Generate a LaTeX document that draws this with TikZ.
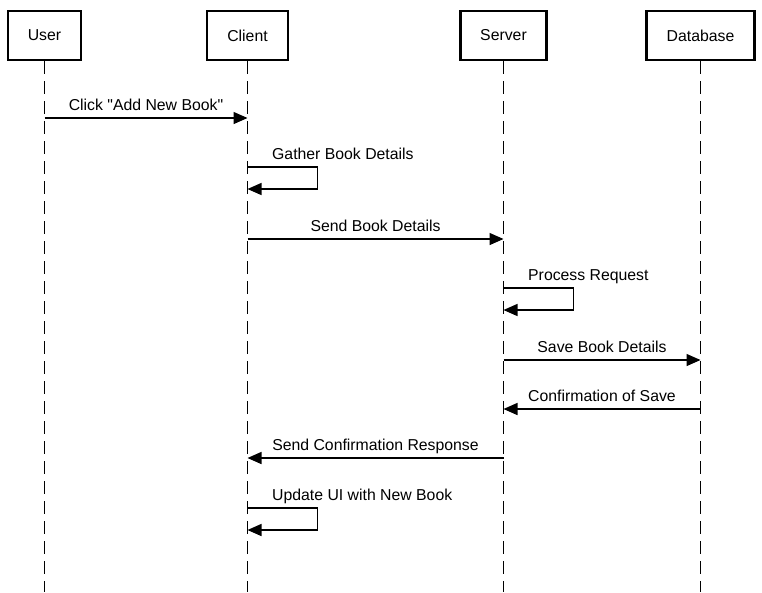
\documentclass[tikz,border=0pt]{standalone}
\usepackage{fontspec}
\setmainfont{Liberation Sans}[Ligatures=TeXOff]
\usetikzlibrary{arrows.meta}
\begin{document}
\begin{tikzpicture}[x=1pt,y=-1pt,
  actor/.style={draw=black,line width=2.6pt,minimum height=49pt,inner sep=0pt,font=\fontsize{15.8}{19}\selectfont},
  lifeline/.style={line width=1.6pt,dash pattern=on 13pt off 7pt},
  msg/.style={line width=1.4pt,-{Triangle[length=14pt,width=12pt]}},
  lbl/.style={inner sep=0pt,anchor=base,font=\fontsize{15.8}{19}\selectfont},
  lblw/.style={lbl,anchor=base west}]
\useasboundingbox (0,0) rectangle (762,592);
\fill[white] (0,0) rectangle (762,592);
% actors
\node[actor,minimum width=73pt] (user) at (44.5,35.5) {User};
\node[actor,minimum width=81pt] (client) at (247.5,35.5) {Client};
\node[actor,minimum width=86pt] (server) at (503.5,35.5) {Server};
\node[actor,minimum width=108pt] (db) at (700.5,35.5) {Database};
% lifeline ends
\coordinate (userend) at (44.5,592);
\coordinate (clientend) at (247.5,592);
\coordinate (serverend) at (503.5,592);
\coordinate (dbend) at (700.5,592);
\draw[lifeline] (user.south) -- (userend);
\draw[lifeline] (client.south) -- (clientend);
\draw[lifeline] (server.south) -- (serverend);
\draw[lifeline] (db.south) -- (dbend);
% message points
\coordinate (u1) at (44.5,118);   \coordinate (c1) at (247.5,118);
\coordinate (c2a) at (247.5,167); \coordinate (c2b) at (247.5,189);
\coordinate (c3) at (247.5,239);  \coordinate (s3) at (503.5,239);
\coordinate (s4a) at (503.5,288); \coordinate (s4b) at (503.5,310);
\coordinate (s5) at (503.5,360);  \coordinate (d5) at (700.5,360);
\coordinate (d6) at (700.5,409);  \coordinate (s6) at (503.5,409);
\coordinate (s7) at (503.5,458);  \coordinate (c7) at (247.5,458);
\coordinate (c8a) at (247.5,508); \coordinate (c8b) at (247.5,530);
% messages
\draw[msg] (u1) -- (c1);
\node[lbl] (t1) at (146,110) {Click "Add New Book"};
\draw[msg] (c2a) -- ++(70,0) |- (c2b);
\node[lblw] (t2) at (272,159.5) {Gather Book Details};
\draw[msg] (c3) -- (s3);
\node[lbl] (t3) at (375.5,231) {Send Book Details};
\draw[msg] (s4a) -- ++(70,0) |- (s4b);
\node[lblw] (t4) at (528,280.5) {Process Request};
\draw[msg] (s5) -- (d5);
\node[lbl] (t5) at (602,352) {Save Book Details};
\draw[msg] (d6) -- (s6);
\node[lbl] (t6) at (602,401.5) {Confirmation of Save};
\draw[msg] (s7) -- (c7);
\node[lbl] (t7) at (375.5,450.5) {Send Confirmation Response};
\draw[msg] (c8a) -- ++(70,0) |- (c8b);
\node[lblw] (t8) at (272,500.5) {Update UI with New Book};
\end{tikzpicture}
\end{document}
